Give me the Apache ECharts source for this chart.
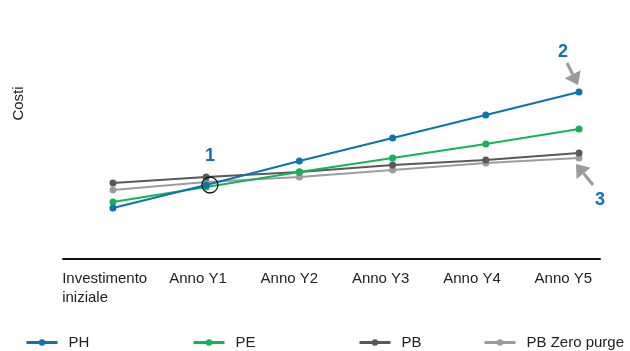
<!DOCTYPE html>
<html>
<head>
<meta charset="utf-8">
<script src="https://cdn.jsdelivr.net/npm/echarts@6/dist/echarts.min.js"></script>
<style>
  html, body { margin: 0; padding: 0; background: #fff; }
  #chart { width: 630px; height: 351px; }
</style>
</head>
<body>
<div id="chart"></div>
<script>
// Cost comparison over time for the four plant options
const categories = ['Investimento\niniziale', 'Anno Y1', 'Anno Y2', 'Anno Y3', 'Anno Y4', 'Anno Y5'];
const seriesNames = ['PH', 'PE', 'PB', 'PB Zero purge'];
const ph  = [51, 74, 98, 121, 144, 167];
const pe  = [57, 72, 87, 101, 115, 130];
const pb  = [76, 82, 87, 94, 99, 106];
const pbz = [69, 77, 82, 89, 96, 101];
const colors = ['#0b73ae', '#16b25a', '#58595b', '#9c9c9e'];
const FONT = "'Liberation Sans', Arial, sans-serif";
const TEXT = '#222';

const chart = echarts.init(document.getElementById('chart'), null, { renderer: 'canvas' });

const allData = [ph, pe, pb, pbz];
const series = seriesNames.map((name, k) => ({
  name,
  type: 'line',
  xAxisIndex: 0,
  yAxisIndex: 0,
  data: allData[k].map((v, i) => [i, v]),
  symbol: 'circle',
  symbolSize: 7,
  z: 10 - k,
  itemStyle: { color: colors[k] },
  lineStyle: { color: colors[k], width: 2 },
  emphasis: { disabled: true }
}));

const legendLefts = [20, 187, 353, 478];
const legends = seriesNames.map((name, k) => ({
  data: [name],
  left: legendLefts[k],
  top: 330,
  itemWidth: 31,
  itemHeight: 8,
  selectedMode: false,
  lineStyle: { width: 3 },
  textStyle: { fontFamily: FONT, fontSize: 15, color: TEXT, padding: [0, 0, 0, 6] }
}));

chart.setOption({
  animation: false,
  backgroundColor: '#fff',
  grid: [
    // plotting area with the baseline
    { left: 63, right: 30, top: 39, bottom: 92 },
    // category label band
    { left: 61, right: 21, top: 39, bottom: 92 }
  ],
  xAxis: [
    {
      type: 'value',
      gridIndex: 0,
      min: -0.536,
      max: 5.225,
      splitLine: { show: false },
      axisLine: { show: true, onZero: false, lineStyle: { color: '#111', width: 2 } },
      axisTick: { show: false },
      axisLabel: { show: false }
    },
    {
      type: 'category',
      gridIndex: 1,
      data: categories,
      boundaryGap: true,
      axisLine: { show: false },
      axisTick: { show: false },
      splitLine: { show: false },
      axisLabel: {
        interval: 0,
        formatter: t => t.indexOf('\n') >= 0
          ? t.split('\n').map(s => '{l|' + s + '}').join('\n')
          : t,
        margin: 10,
        fontFamily: FONT,
        fontSize: 15,
        color: TEXT,
        lineHeight: 19,
        rich: { l: { width: 89, align: 'left', fontFamily: FONT, fontSize: 15, color: TEXT, lineHeight: 19 } }
      }
    }
  ],
  yAxis: [
    { type: 'value', gridIndex: 0, min: 0, max: 220, show: false },
    { type: 'value', gridIndex: 1, min: 0, max: 220, show: false }
  ],
  legend: legends,
  series
});

// annotations: marker circle, numbered callouts and arrows
const px = (x, y) => chart.convertToPixel({ xAxisIndex: 0, yAxisIndex: 0 }, [x, y]);
const cross = px(1.04, 74);
const p2 = px(5, ph[5]);
const p3 = px(5, pbz[5]);
const arrowGray = '#9a9a9c';

function arrow(tail, tip, headLen, headHalf) {
  const dx = tip[0] - tail[0], dy = tip[1] - tail[1];
  const len = Math.sqrt(dx * dx + dy * dy);
  const ux = dx / len, uy = dy / len;
  const bx = tip[0] - ux * headLen, by = tip[1] - uy * headLen;
  const nx = -uy, ny = ux;
  return [
    { type: 'line', shape: { x1: tail[0], y1: tail[1], x2: bx, y2: by },
      style: { stroke: arrowGray, lineWidth: 3 }, z: 20 },
    { type: 'polygon',
      shape: { points: [[tip[0], tip[1]], [bx + nx * headHalf, by + ny * headHalf], [bx - nx * headHalf, by - ny * headHalf]] },
      style: { fill: arrowGray }, z: 20 }
  ];
}

const numStyle = { fontFamily: FONT, fontSize: 18, fontWeight: 'bold', fill: '#0b73ae', align: 'center', verticalAlign: 'middle' };

chart.setOption({
  graphic: [
    { type: 'text', x: 18.5, y: 103.5, rotation: Math.PI / 2,
      style: { text: 'Costi', fontFamily: FONT, fontSize: 15, fill: TEXT, align: 'center', verticalAlign: 'middle' } },
    { type: 'circle', shape: { cx: cross[0], cy: cross[1], r: 8 },
      style: { fill: 'none', stroke: '#111', lineWidth: 1.3 }, z: 30 },
    { type: 'text', x: cross[0], y: cross[1] - 29, style: Object.assign({ text: '1' }, numStyle), z: 30 },
    { type: 'text', x: p2[0] - 16, y: p2[1] - 40, style: Object.assign({ text: '2' }, numStyle), z: 30 },
    { type: 'text', x: p3[0] + 21, y: p3[1] + 42, style: Object.assign({ text: '3' }, numStyle), z: 30 }
  ]
    .concat(arrow([p2[0] - 12, p2[1] - 29], [p2[0] - 1, p2[1] - 7], 12, 9))
    .concat(arrow([p3[0] + 14, p3[1] + 27], [p3[0] - 3, p3[1] + 6], 12, 9))
});
</script>
</body>
</html>
